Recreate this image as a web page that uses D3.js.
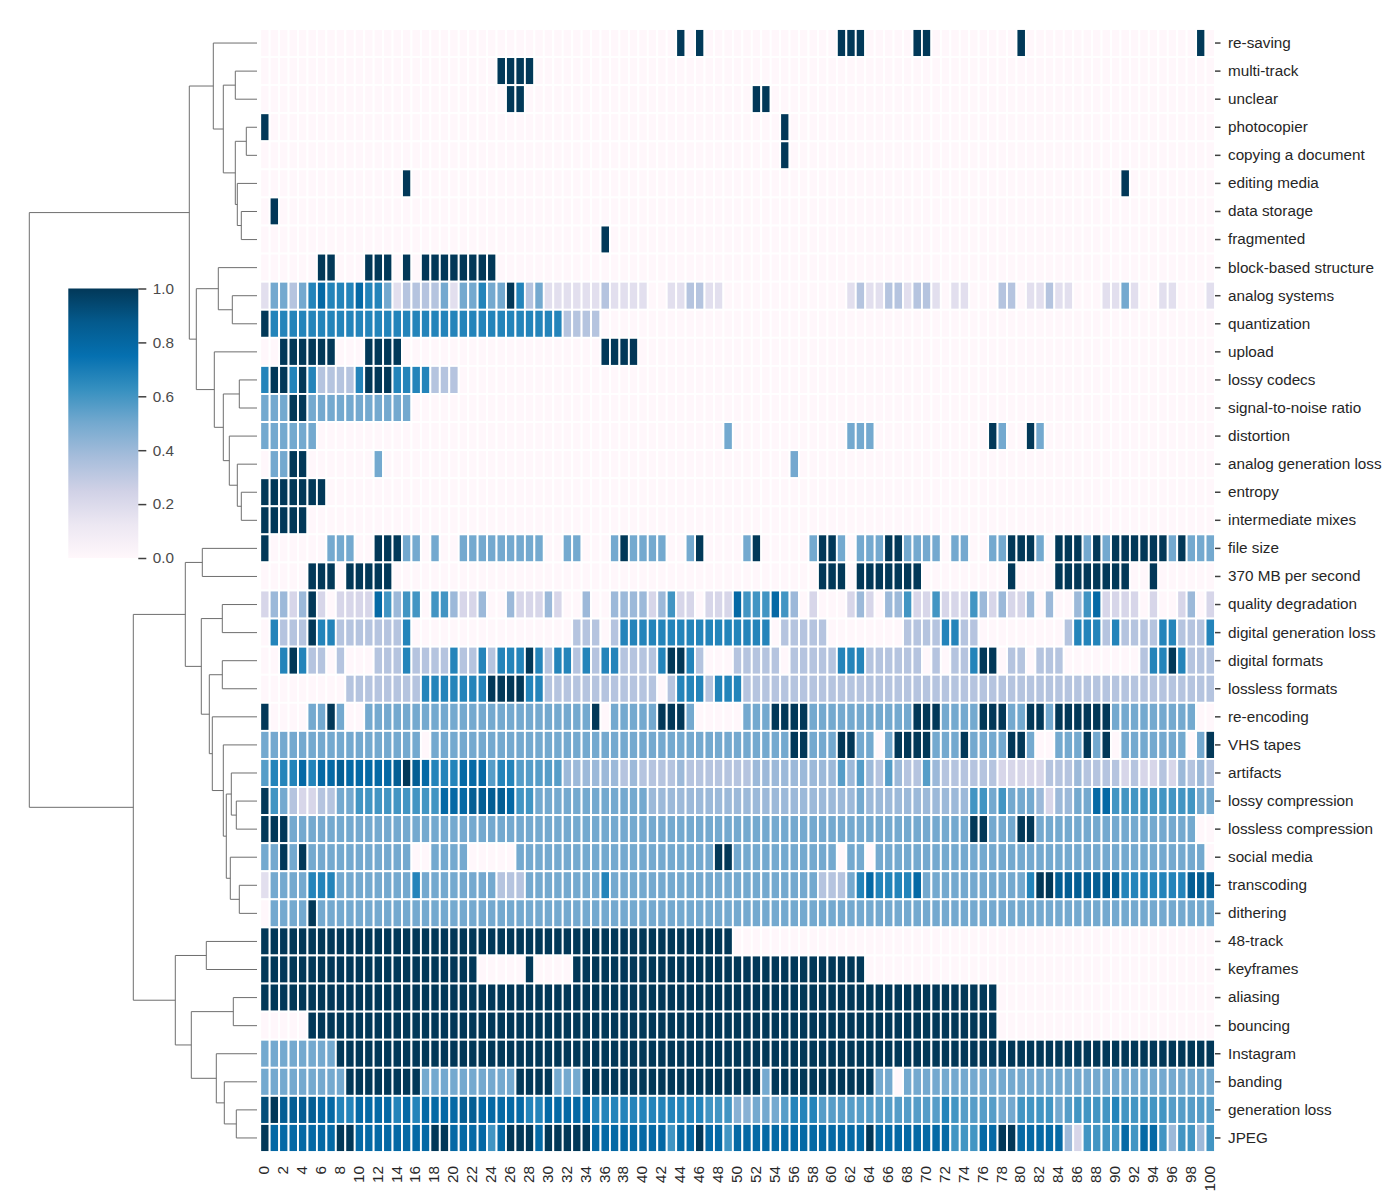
<!DOCTYPE html>
<html><head><meta charset="utf-8">
<script src="https://cdn.jsdelivr.net/npm/d3@7"></script>
<style>html,body{margin:0;padding:0;background:#fff}svg{display:block}text{font-family:"Liberation Sans",Arial,sans-serif}</style>
</head><body><div id="c"></div>
<script>
const rowLabels = ["re-saving","multi-track","unclear","photocopier","copying a document","editing media","data storage","fragmented","block-based structure","analog systems","quantization","upload","lossy codecs","signal-to-noise ratio","distortion","analog generation loss","entropy","intermediate mixes","file size","370 MB per second","quality degradation","digital generation loss","digital formats","lossless formats","re-encoding","VHS tapes","artifacts","lossy compression","lossless compression","social media","transcoding","dithering","48-track","keyframes","aliasing","bouncing","Instagram","banding","generation loss","JPEG"];
const levelCodes = {"0":0,"1":0.17,"2":0.22,"3":0.33,"4":0.4,"L":0.45,"5":0.5,"M":0.56,"6":0.6,"7":0.67,"8":0.79,"9":0.85,"Y":0.92,"X":1};
const o="0000000000", f="5555555555", x="XXXXXXXXXX", t="3333333333", s="7777777777", e="8888888888", q="4444444444", m="MMMMMMMMMM";
const cellCodes = [
[o,o,o,o,"0000X0X000",o,"0XXX00000X","X000000000","X000000000","000000000X0"],
[o,o,"00000XXXX0",o,o,o,o,o,o,o+"0"],
[o,o,"000000XX00",o,o,"00XX000000",o,o,o,o+"0"],
["X000000000",o,o,o,o,"00000X0000",o,o,o,o+"0"],
[o,o,o,o,o,"00000X0000",o,o,o,o+"0"],
[o,"00000X0000",o,o,o,o,o,o,o,"0X000000000"],
["0X00000000",o,o,o,o,o,o,o,o,o+"0"],
[o,o,o,"000000X000",o,o,o,o,o,o+"0"],
["000000XX00","0XXX0X0XXX","XXXXX00000",o,o,o,o,o,o,o+"0"],
["1553578777","8775133335","155755X735","1111113111","1001133110",o,"0013113313","3101100033","0113110001","15100110001"],
["X777777777",s,s,"7733330000",o,o,o,o,o,o+"0"],
["00XXXXXX00","0XXXX00000",o,"000000XXXX",o,o,o,o,o,o+"0"],
["7XX7X73333","7XXX777733","3000000000",o,o,o,o,o,o,o+"0"],
["555XX55555","5555550000",o,o,o,o,o,o,o,o+"0"],
["5555550000",o,o,o,"0000000005",o,"0055500000","0000000X50","0X50000000",o+"0"],
["055XX00000","0050000000",o,o,o,"0000005000",o,o,o,o+"0"],
["XXXXXXX000",o,o,o,o,o,o,o,o,o+"0"],
["XXXXX00000",o,o,o,o,o,o,o,o,o+"0"],
["X000000555","00XXX55050","0555555555","00550005X5","55500 5X000".replace(" ",""),"05X000005X","X50555XX55","5505500 55X".replace(" ",""),"XX50XXX5X5","XXXXXX5X555"],
["00000XXX0X","XXXX000000",o,o,o,"000000000X","XX0XXXXXXX","000000000X","0000XXXXXX","XX00X000000"],
["24424X2022","2286466066","4224004222","4200400444","4246220222","8666864020","0024204462","2622264242","2404004682","22202002402"],
["07333X7733","3333370000",o,"0003330377",s,"7777033333","0000000033","3377330000","0000037773","73333773337"],
["007X733030","0033373333","73373777X7","3773737733","337XX73000","3333303333","3777333333","030337XX03","3033300000","000377X7333"],
["0000000003","3333333777","7777XXXX77",t,"3303777377","7333333333",t,t,t,t+"3"],
["X000055X50","0555555555",f,"55555X0555","55XXX50000","0555XXXX55","555555555X","XX5555XXX5","5XX5XXXXXX","55555555500"],
[f,"5555555055",f,f,f,"555555XX55","5XX5505XXX","X555X5555X","X500555X5X","05555555 05X".replace(" ","")],
["M777878898","888 89X9877".replace(" ",""),"7888M77MMM","MM44444434","3333433333","3344444444","4M4M43M433","M433333322","2223334333","32322324343"],
["X653223355","6666666668","8899998665",f,"5444444444",q,"4445444444","4444466565","5542445588","66666666655"],
["XXX5555555",f,f,f,f,f,f,"55555XX555","XX55555555","55555555500"],
["55X5X55555","5555550055","5500000555",f,"55555555XX",f,"5055055555",f,f,"55555555550"],
["1555577755","5555557555","5555533355","5555557555",f,"5555555553","3357877778",f,"57XX999999","97777777999"],
["05555X5555",f,f,f,f,f,f,f,f,f+"5"],
[x,x,x,x,x,o,o,o,o,o+"0"],
[x,x,"XXX00000X0","000XXXXXXX",x,x,"XXXX000000",o,o,o+"0"],
[x,x,x,x,x,x,x,"XXXXXXXX00",o,o+"0"],
["00000XXXXX",x,x,x,x,x,x,"XXXXXXXX00",o,o+"0"],
["55555555XX",x,x,x,x,x,x,x,x,x+"X"],
["555555555X","XXXXXXX555","5555555XXX","X555XXXXXX",x,"XXX5XXXXXX","XXXXX55055",f,f,f+"5"],
["YX99998877","8888787888","8998888877","8888877777","7777777666","LL555M777M",m,"MM76MMMM55","66665M6666","766666MMMMM"],
["X8888888XX","88888888XX","888868XXX8","XXXXX88888","888688X886",e,"8888X88888","88866688XX","8888842666","68688646646"]
].map(g => g.join(""));
const columnLabels = d3.range(0,101);
const cbTicks = [0,0.2,0.4,0.6,0.8,1];
// linkage: [merge height, child, child]; numbers are indices into rowLabels
const linkage = [227.7,
 [67.7,
  [43.7, 0, [33.7, [21.7,1,2], [21.7,[10.7,3,4],[19.7,5,[15.7,6,7]]]]],
  [60.7,
   [38.7, 8, [24.7,9,10]],
   [42.7, 11, [33.7,[17.7,12,13],[27.7,14,[19.7,15,[15.7,16,17]]]]]]],
 [123.7,
  [71.7,
   [54.7,18,19],
   [55.7,
    [34.7,20,21],
    [47.7,
     [34.7,22,23],
     [44.7,24,[33.7,25,[30.7,[25.7,26,[20.7,27,28]],[26.7,29,[17.7,30,31]]]]]]]],
  [81.7,
   [50.7,32,33],
   [65.7,
    [23.7,34,35],
    [40.7,36,[32.7,37,[20.7,38,39]]]]]]];

const W=1400,H=1196,FS=15.28,FF='"Liberation Sans",Arial,sans-serif';
const svg=d3.select("#c").append("svg").attr("width",W).attr("height",H);
const xS=d3.scaleBand().domain(columnLabels).range([260.2,1215]);
const yS=d3.scaleBand().domain(rowLabels).range([29,1152]);
const color=d3.scaleLinear().domain(d3.range(9).map(i=>i/8)).range(d3.schemePuBu[9]);

const cells=[];
cellCodes.forEach((code,r)=>{for(let c=0;c<101;c++)cells.push({r:rowLabels[r],c:c,v:levelCodes[code[c]||"0"]});});
svg.append("g").selectAll("rect").data(cells).join("rect")
 .attr("x",d=>xS(d.c)).attr("y",d=>yS(d.r)).attr("width",xS.bandwidth()).attr("height",yS.bandwidth())
 .attr("fill",d=>color(d.v)).attr("stroke","#fff").attr("stroke-width",1.9);

// row axis
const ya=svg.append("g").attr("transform","translate(1215,0)").call(d3.axisRight(yS).tickSize(5.5).tickPadding(7.5));
ya.select(".domain").remove();
ya.selectAll("line").attr("stroke","#404040").attr("stroke-width",1.5);
ya.selectAll("text").attr("font-size",FS).attr("fill","#262626").attr("font-family",FF);

// column axis
const xa=svg.append("g").attr("transform","translate(0,1152)").call(d3.axisBottom(xS).tickValues(columnLabels.filter(d=>d%2===0)).tickSize(0));
xa.select(".domain").remove();
xa.selectAll("text").attr("font-size",FS).attr("fill","#262626").attr("font-family",FF)
 .attr("transform","rotate(-90)").attr("text-anchor","end").attr("x",-14).attr("y",0).attr("dy","0.28em");

// dendrogram
const dx=d3.scaleLinear().domain([0,227.7]).range([257,29.3]);
const leafY=i=>yS(rowLabels[i])+yS.bandwidth()/2;
const dPaths=[];
function walk(n){
 if(typeof n==="number")return {h:0,y:leafY(n)};
 const a=walk(n[1]),b=walk(n[2]);
 const p=d3.path();p.moveTo(dx(a.h),a.y);p.lineTo(dx(n[0]),a.y);p.lineTo(dx(n[0]),b.y);p.lineTo(dx(b.h),b.y);
 dPaths.push(p.toString());
 return {h:n[0],y:(a.y+b.y)/2};
}
walk(linkage);
svg.append("g").selectAll("path").data(dPaths).join("path").attr("d",d=>d).attr("fill","none").attr("stroke","#6e6e6e").attr("stroke-width",1);

// colorbar
const cbY=d3.scaleLinear().domain([0,1]).range([558,288.5]);
const defs=svg.append("defs").append("linearGradient").attr("id","cb").attr("x1",0).attr("x2",0).attr("y1",1).attr("y2",0);
defs.selectAll("stop").data(d3.range(0,1.0001,0.125)).join("stop").attr("offset",d=>d).attr("stop-color",d=>color(d));
svg.append("rect").attr("x",68.3).attr("y",cbY(1)).attr("width",70).attr("height",cbY(0)-cbY(1)).attr("fill","url(#cb)");
const ca=svg.append("g").attr("transform","translate(138.3,0)").call(d3.axisRight(cbY).tickValues(cbTicks).tickFormat(d3.format(".1f")).tickSize(8).tickPadding(6.5));
ca.select(".domain").remove();
ca.selectAll("line").attr("stroke","#404040").attr("stroke-width",1.5);
ca.selectAll("text").attr("font-size",FS).attr("fill","#4a4a4a").attr("font-family",FF);
const bad=cellCodes.map((c,i)=>c.length!==101?rowLabels[i]+":"+c.length:null).filter(Boolean);
if(bad.length)svg.append("text").attr("x",5).attr("y",20).attr("font-size",12).attr("fill","red").text(bad.join(" | "));
</script></body></html>
